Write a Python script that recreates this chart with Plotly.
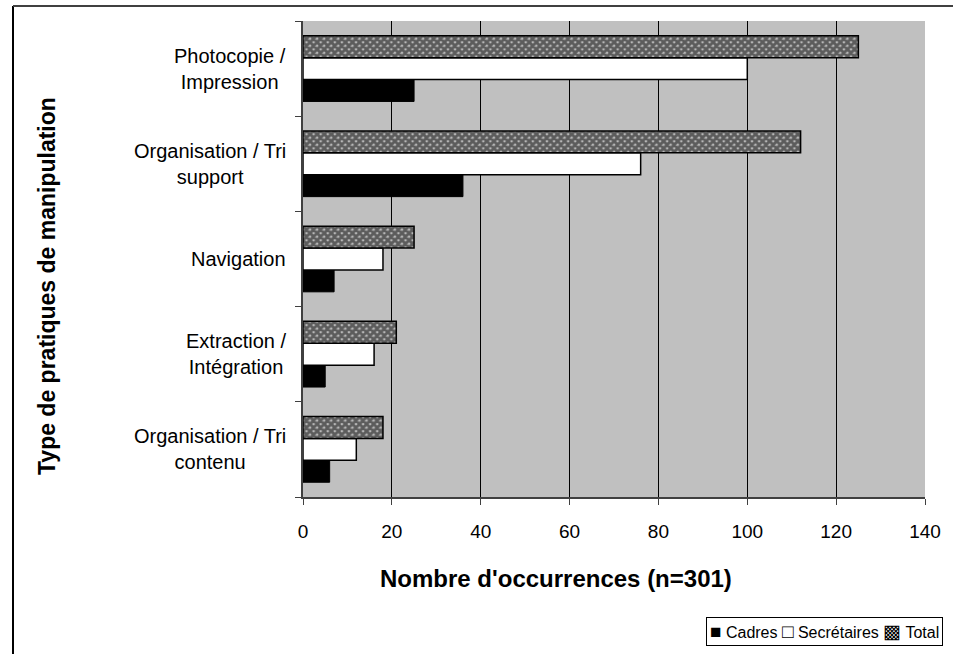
import plotly.graph_objects as go

categories = ["Photocopie /<br>Impression", "Organisation / Tri<br>support", "Navigation",
              "Extraction /<br>Intégration", "Organisation / Tri<br>contenu"]
cadres = [25, 36, 7, 5, 6]
secretaires = [100, 76, 18, 16, 12]
total = [125, 112, 25, 21, 18]
x_ticks = [0, 20, 40, 60, 80, 100, 120, 140]
series_names = ["Cadres", "Secrétaires", "Total"]
legend_symbols = ["■", "□", "▩"]

FONT = "Liberation Sans, Arial, sans-serif"
L, R, T, B = 303, 28, 21, 157
W, H = 953, 654
PW, PH = W - L - R, H - T - B

def px_x(px):
    return (px - L) / PW

def px_y(py):
    return (H - B - py) / PH

fig = go.Figure()
fig.add_trace(go.Bar(y=categories, x=cadres, orientation="h", name=series_names[0],
                     marker=dict(color="#000000", line=dict(color="#000000", width=1))))
fig.add_trace(go.Bar(y=categories, x=secretaires, orientation="h", name=series_names[1],
                     marker=dict(color="#ffffff", line=dict(color="#000000", width=1.5))))
fig.add_trace(go.Bar(y=categories, x=total, orientation="h", name=series_names[2],
                     marker=dict(color="#ffffff", line=dict(color="#000000", width=1.5),
                                 pattern=dict(shape="x", fgcolor="#000000", bgcolor="#b8b8b8",
                                              size=5, solidity=0.8))))

legend_text = " ".join(
    f"<span style='font-size:19px'>{s}</span> {n}" for s, n in zip(legend_symbols, series_names)
)

annotations = []
for c in categories:
    annotations.append(dict(x=px_x(288), y=c, xref="paper", yref="y", text=c,
                            xanchor="right", yanchor="middle", align="center",
                            showarrow=False, font=dict(family=FONT, size=20, color="#000")))
annotations.append(dict(x=px_x(556), y=px_y(578), xref="paper", yref="paper",
                        text="<b>Nombre d'occurrences (n=301)</b>", showarrow=False,
                        xanchor="center", yanchor="middle",
                        font=dict(family=FONT, size=24, color="#000")))
annotations.append(dict(x=px_x(47), y=px_y(286), xref="paper", yref="paper",
                        text="<b>Type de pratiques de manipulation</b>", showarrow=False,
                        textangle=-90, xanchor="center", yanchor="middle",
                        font=dict(family=FONT, size=23, color="#000")))
annotations.append(dict(x=px_x(943), y=px_y(631), xref="paper", yref="paper",
                        text=legend_text, showarrow=False, xanchor="right", yanchor="middle",
                        bordercolor="#000000", borderwidth=1, borderpad=3, bgcolor="#ffffff",
                        font=dict(family=FONT, size=16, color="#000")))

shapes = [
    dict(type="line", xref="paper", yref="paper", x0=px_x(13), x1=px_x(13),
         y0=px_y(670), y1=px_y(6), line=dict(color="#000000", width=2)),
    dict(type="line", xref="paper", yref="paper", x0=px_x(13), x1=px_x(970),
         y0=px_y(6), y1=px_y(6), line=dict(color="#404040", width=2)),
]

fig.update_layout(
    width=W, height=H,
    margin=dict(l=L, r=R, t=T, b=B),
    paper_bgcolor="#ffffff", plot_bgcolor="#c0c0c0",
    barmode="group", bargap=0.31, bargroupgap=0,
    font=dict(family=FONT, size=19, color="#000"),
    annotations=annotations, shapes=shapes,
    showlegend=False,
    xaxis=dict(range=[0, 140], tickvals=x_ticks, showgrid=True, gridcolor="#000000", gridwidth=1,
               zeroline=False, showline=True, linecolor="#404040", linewidth=1.5,
               ticks="outside", ticklen=6, tickcolor="#404040", ticklabelstandoff=10,
               tickfont=dict(family=FONT, size=19, color="#000")),
    yaxis=dict(categoryorder="array", categoryarray=categories[::-1],
               showticklabels=False, tickson="boundaries", ticks="outside", ticklen=6,
               tickcolor="#404040", showline=True, linecolor="#404040", linewidth=1.5,
               showgrid=False, zeroline=False),
)

fig.write_html("out.html")
